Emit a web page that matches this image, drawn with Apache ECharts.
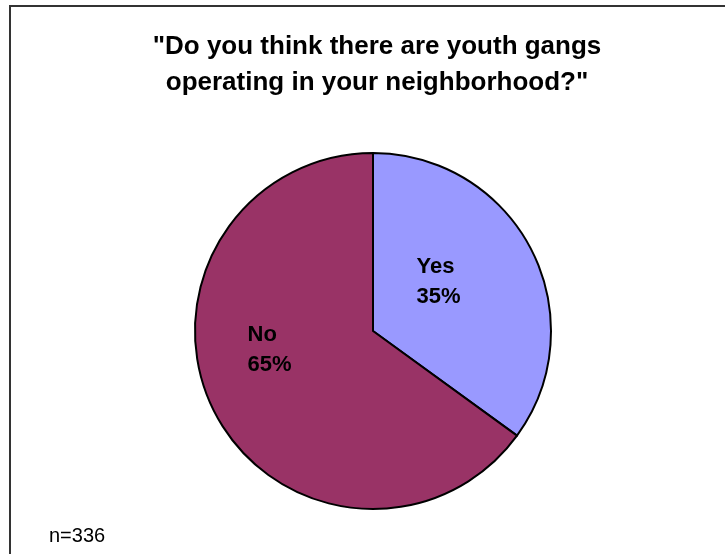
<!DOCTYPE html>
<html>
<head>
<meta charset="utf-8">
<style>
  html, body { margin: 0; padding: 0; background: #ffffff; }
  #chart { width: 725px; height: 554px; }
</style>
<script src="https://cdn.jsdelivr.net/npm/echarts@6/dist/echarts.min.js"></script>
</head>
<body>
<div id="chart"></div>
<script>
// Survey answers and their shares (percent of respondents)
const categories = ['Yes', 'No'];
const shares = [35, 65];
const sliceColors = ['#9999FF', '#993366'];
const titleText = '"Do you think there are youth gangs\noperating in your neighborhood?"';
const sampleNote = 'n=336';

// Nudges that move each inside label to its spot within the slice
const labelNudge = [
  { dx: -16, dy: -7 },
  { dx: -21, dy: -23 }
];

const chart = echarts.init(document.getElementById('chart'), null, { renderer: 'canvas' });

chart.setOption({
  backgroundColor: '#ffffff',
  animation: false,
  title: {
    text: titleText,
    left: 372,
    top: 24,
    textAlign: 'center',
    textStyle: {
      fontFamily: '"Liberation Sans", Arial, sans-serif',
      fontWeight: 'bold',
      fontSize: 26,
      lineHeight: 36,
      color: '#000000'
    }
  },
  graphic: [
    {
      type: 'rect',
      shape: { x: 10, y: 6, width: 760, height: 600 },
      style: { fill: 'none', stroke: '#333333', lineWidth: 2 },
      silent: true,
      z: -1
    },
    {
      type: 'text',
      left: 49,
      top: 526,
      style: {
        text: sampleNote,
        fontFamily: '"Liberation Sans", Arial, sans-serif',
        fontSize: 20,
        fill: '#000000'
      }
    }
  ],
  series: [
    {
      type: 'pie',
      center: [373, 331],
      radius: 178,
      startAngle: 90,
      clockwise: true,
      avoidLabelOverlap: false,
      itemStyle: { borderColor: '#000000', borderWidth: 2 },
      label: {
        show: true,
        position: 'inside',
        formatter: '{t|{b}}\n{t|{d}%}',
        rich: {
          t: {
            width: 45,
            align: 'left',
            fontFamily: '"Liberation Sans", Arial, sans-serif',
            fontWeight: 'bold',
            fontSize: 22,
            lineHeight: 30,
            color: '#000000'
          }
        }
      },
      labelLine: { show: false },
      labelLayout: function (params) {
        return labelNudge[params.dataIndex];
      },
      emphasis: { disabled: true },
      data: categories.map(function (name, i) {
        return { name: name, value: shares[i], itemStyle: { color: sliceColors[i] } };
      })
    }
  ]
});
</script>
</body>
</html>
